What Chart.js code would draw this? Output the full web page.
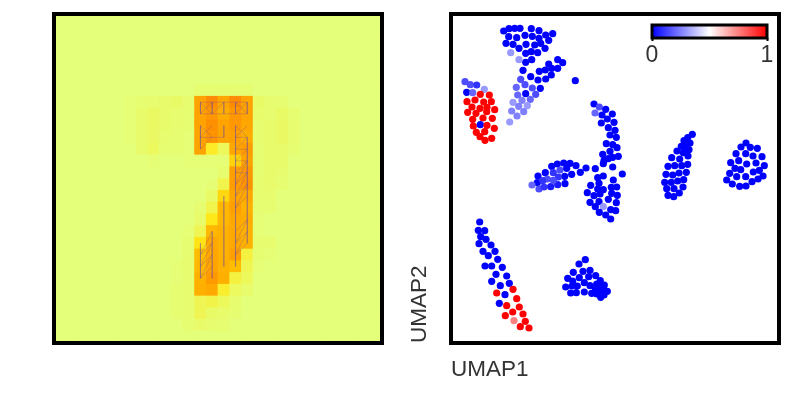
<!DOCTYPE html>
<html>
<head>
<meta charset="utf-8">
<style>
body { margin: 0; background: #fff; overflow: hidden; }
#wrap { position: relative; width: 793px; height: 397px; }
canvas { position: absolute; left: 0; top: 0; }
</style>
<script src="https://cdn.jsdelivr.net/npm/chart.js@4"></script>
</head>
<body>
<div id="wrap">
<canvas id="heat" width="793" height="397"></canvas>
<canvas id="umap" width="793" height="397"></canvas>
<canvas id="cbar" width="793" height="397"></canvas>
</div>
<script>
// relevance map, 28 x 28 cells, 0..1
const heatRows = [
[0,0,0,0,0,0,0,0,0,0,0,0,0,0,0,0,0,0,0,0,0,0,0,0,0,0,0,0],
[0,0,0,0,0,0,0,0,0,0,0,0,0,0,0,0,0,0,0,0,0,0,0,0,0,0,0,0],
[0,0,0,0,0,0,0,0,0,0,0,0,0,0,0,0,0,0,0,0,0,0,0,0,0,0,0,0],
[0,0,0,0,0,0,0,0,0,0,0,0,0,0,0,0,0,0,0,0,0,0,0,0,0,0,0,0],
[0,0,0,0,0,0,0,0,0,0,0,0,0,0,0,0,0,0,0,0,0,0,0,0,0,0,0,0],
[0,0,0,0,0,0,0,0,0,0,0,0,0,0,0,0,0,0,0,0,0,0,0,0,0,0,0,0],
[0,0,0,0,0,0,0,0,0,0,0,0,.02,.02,.02,.02,.02,0,0,0,0,0,0,0,0,0,0,0],
[0,0,0,0,0,0,.01,.02,.03,.04,.05,.03,.72,.9,.7,.9,.72,.05,.03,.02,0,0,0,0,0,0,0,0],
[0,0,0,0,0,0,.01,.04,.06,.04,.03,.02,.72,.82,.65,.82,.72,.04,.03,.05,.02,0,0,0,0,0,0,0],
[0,0,0,0,0,0,.01,.04,.06,.04,.03,.02,.72,.88,.72,.82,.7,.03,.04,.06,.03,0,0,0,0,0,0,0],
[0,0,0,0,0,0,.01,.04,.06,.03,.02,.01,.72,.85,.72,.75,.65,.03,.04,.06,.03,0,0,0,0,0,0,0],
[0,0,0,0,0,0,0,.04,.07,.02,.02,.01,.72,.22,.08,.7,.78,.02,.04,.04,.02,0,0,0,0,0,0,0],
[0,0,0,0,0,0,0,0,.01,0,0,.01,.01,.01,.01,.38,.72,.02,.04,.04,0,0,0,0,0,0,0,0],
[0,0,0,0,0,0,0,0,0,0,0,0,0,0,.03,.75,.82,.02,.04,.03,0,0,0,0,0,0,0,0],
[0,0,0,0,0,0,0,0,0,0,0,0,0,.01,.12,.78,.85,.03,.04,.02,0,0,0,0,0,0,0,0],
[0,0,0,0,0,0,0,0,0,0,0,0,0,.05,.35,.7,.68,.03,.03,0,0,0,0,0,0,0,0,0],
[0,0,0,0,0,0,0,0,0,0,0,0,.02,.12,.55,.75,.6,.02,.02,0,0,0,0,0,0,0,0,0],
[0,0,0,0,0,0,0,0,0,0,0,0,.04,.25,.55,.68,.65,.01,0,0,0,0,0,0,0,0,0,0],
[0,0,0,0,0,0,0,0,0,0,0,.01,.1,.55,.6,.68,.6,.01,0,0,0,0,0,0,0,0,0,0],
[0,0,0,0,0,0,0,0,0,0,0,.02,.28,.68,.6,.68,.6,.03,.03,0,0,0,0,0,0,0,0,0],
[0,0,0,0,0,0,0,0,0,0,0,.02,.5,.7,.6,.75,.15,.02,.01,0,0,0,0,0,0,0,0,0],
[0,0,0,0,0,0,0,0,0,0,.01,.03,.55,.72,.6,.5,.1,.01,0,0,0,0,0,0,0,0,0,0],
[0,0,0,0,0,0,0,0,0,0,.01,.03,.6,.8,.62,.15,.08,0,0,0,0,0,0,0,0,0,0,0],
[0,0,0,0,0,0,0,0,0,0,.02,.03,.62,.68,.2,.07,.04,0,0,0,0,0,0,0,0,0,0,0],
[0,0,0,0,0,0,0,0,0,0,.02,.03,.1,.13,.08,.03,0,0,0,0,0,0,0,0,0,0,0,0],
[0,0,0,0,0,0,0,0,0,0,.02,.03,.1,.05,.04,.02,0,0,0,0,0,0,0,0,0,0,0,0],
[0,0,0,0,0,0,0,0,0,0,0,.02,.04,.03,.02,0,0,0,0,0,0,0,0,0,0,0,0,0],
[0,0,0,0,0,0,0,0,0,0,0,0,0,0,0,0,0,0,0,0,0,0,0,0,0,0,0,0]
];
const wistia = [[228,255,122],[255,232,26],[255,189,0],[255,160,0],[252,127,0]];

// graph edges over the digit: col1,row1,col2,row2
const meshEdges = [
[12,7,16,7],[12,8,16,8],[12,7,12,8],[13,7,13,8],[14,7,14,8],[15,7,15,8],[16,7,16,8],
[12,8,13,7],[12,7,13,8],[13,8,14,7],[15,8,16,7],[15,7,16,8],
[12,9,12,11],[12,9,13,10],[13,9,12,10],[12,10,14,10],[14,9,14,10],[12,11,13,10],
[15,9,15,21],[15,9,16,10],[16,9,15,10],[15,10,16,10],[16,10,15,11],[15,11,16,11],[16,11,15,12],[15,12,16,12],
[16,10,16,19],[15,13,16,13],[15,13,16,12],[15,14,16,12],[15,14,16,13],[15,15,16,13],[15,15,16,14],[15,16,16,14],[15,16,16,15],
[15,18,16,17],[15,19,16,17],[15,19,16,18],[15,20,16,18],[15,20,16,19],
[14,15,14,21],
[12,19,12,22],[13,18,13,22],[12,20,13,18],[12,20,13,19],[12,21,13,19],[12,21,13,20],[12,22,13,20],[12,22,13,21]
];

// umap1, umap2, value
const clusterTop = [
[52.7,312,0],[58,314.3,0],[63.7,314.7,0],[69,314.7,0],[80.3,314.3,0],[88,312.3,0],[101.7,309.3,0],[94.7,308,0],
[57.7,306.3,0],[65.7,305.3,0],[74,307.7,0],[81.3,306.7,0],[88,304.7,0],[97.7,302.7,0],[55,299.7,0],[62,298.7,0],
[68,294.7,0],[75,298.7,0],[83.7,298,0],[89.7,299.7,0],[94,294.7,0],[74.7,289.7,0],[80.3,291.3,0],[86.7,290.3,0],
[74.7,280.7,0],[80.7,283.3,0],[59.7,290.3,.3],[68,283.3,.3],[72,272.7,0],[79.7,266.3,0],[88.3,271.7,0],[94.3,273,0],
[100.7,274.7,0],[106.7,283.3,0],[111.7,280.3,0],[106.7,274.7,0],[97.7,279,0],[100.3,268,0],[94.7,264,0],[87,263,0],
[89.3,254.7,0],[124.3,262.3,0],[69.7,263.7,.15],[65.3,255.7,.2],[74,258.3,.15],[81.3,255,.15],[66.7,248,.2],[74.7,249.3,0],
[84.7,248.7,.15],[79.3,243.7,.2],[71,242.7,.25],[62,240.7,.3],[76.3,237.3,.3],[67.7,236.7,.25],[60.7,232,.25],[72.7,231.3,.25],
[66,227,.25],[58.7,221,.3]
];
const clusterRed = [
[14,261.3,.15],[19.3,258.3,.15],[25.7,258,.1],[15.7,250.7,0],[21.7,250.3,.2],[33.3,253.7,.3],[29.3,248.7,1],[38.3,248,1],
[16,241.3,1],[24,243,1],[32.7,241,1],[40.3,241.3,1],[21,236,1],[29,234.7,1],[36,235.7,1],[16.7,230.7,1],[25,229.7,1],
[43.7,233.3,1],[35.7,231.3,1],[32,225,1],[41.3,224.7,1],[21.7,223.7,1],[22.3,217,1],[29.3,218.3,0],[36,217.7,1],
[43.3,214.7,1],[25.3,210.7,1],[33.7,211.3,1],[29,206.3,1],[34,202.7,1],[40.7,204.7,1]
];
const clusterCentre = [
[143,239,0],[148.3,236,.15],[154.7,233.7,0],[161.3,229,0],[144,230,.2],[151,228,0],[156.3,224,0],[163,220.7,0],
[150.3,220,0],[157.3,215.3,0],[164,212.7,0],[159,208,0],[165.3,205.7,0],[155.3,199.3,0],[161.7,198.3,0],[166,195.3,0],
[151.7,188.7,0],[159,191.7,0],[167.3,186.7,0],[157.3,184.3,0],[161.7,185.7,0],[153,182.3,0],[152.3,179.3,0],[161.7,176,0],
[171.3,169,0],[144.3,174.3,0],[135,175,0],[129.3,170.7,0],[152.3,167,0],[146.7,165.3,0],[162.3,163,0],[139.7,157.7,0],
[148,159.7,0],[146.7,154,0],[152.3,153.3,0],[160.3,155.7,0],[165.7,156,0],[136.3,150.3,0],[143,147.3,0],[149,149,0],
[160.7,149.7,0],[166.3,147.7,0],[157.3,143.7,0],[139,140.7,0],[148,141.3,0],[165.3,140.3,0],[144.3,136.3,0],[152.3,136.3,.3],
[159.7,133.3,0],[164.7,132.3,0],[148.3,130.7,0],[154.7,128,0],[159.7,124,0]
];
const clusterMid = [
[125,177.3,0],[119,179.7,0],[112.7,180,0],[106.3,179,0],[100.7,176.7,0],[94.3,170.3,0],[87,167,0],[86.3,160.3,0],
[81,158,.2],[88,154,.15],[93,156,.1],[99.7,156.3,.05],[106.7,158.3,.05],[114,159.3,0],[120.7,168.7,0],[113.7,166.7,0],
[109,173,.15],[115.7,174.7,0],[102.3,170.3,.1],[107.3,166,.1],[96.3,164,.15],[102.3,162.7,.15],[91.7,162.3,.1]
];
const clusterRight1 = [
[241.3,208.7,0],[236.7,205.3,0],[233,202.3,0],[239,200,0],[234.7,196.3,0],[230.3,196.7,0],[238,193.3,0],[226,192,0],
[232.3,190.3,0],[220.7,185.3,0],[228.7,184,0],[237,187,0],[217,176.7,0],[223.7,177.3,0],[230.7,177.3,0],[236.7,178.7,0],
[228,170,0],[235.3,170.7,0],[215,168.7,0],[221.7,168,0],[213.7,160.7,0],[220.3,160.7,0],[226.7,162,0],[232.7,163.3,0],
[215.7,154.3,0],[223,154.3,0],[232,156,0],[228.3,150,0],[217,147.7,0],[222.7,146.3,0]
];
const clusterRight2 = [
[295,200,0],[290,196,0],[299.3,195.7,0],[306.3,194.7,0],[285,189.3,0],[294.7,189.3,0],[302,187,0],[311,186.3,0],
[287.7,182.3,0],[279.7,180.3,0],[295.7,179,0],[305,180,0],[284,174.7,0],[289.7,173.3,0],[313.3,177.3,0],[308.3,172.7,0],
[302.3,171,0],[278.7,169.7,0],[285.7,166.3,0],[294.7,166.3,0],[312,167,0],[307,164,0],[275.7,163,0],[301,161.3,0],
[281.3,159,0],[288.7,156.7,0],[295,157,0]
];
const clusterDiagonal = [
[28.7,121,0],[27.3,112.7,0],[33.7,112.3,0],[29.7,106.3,0],[35,103.7,0],[28,99.3,0],[40,98,0],[32,91.7,0],[44,91.7,0],
[37.3,87.3,0],[46.7,83.7,0],[34,77,0],[40.7,77,0],[51.3,75.7,0],[45,68.7,0],[55.7,67,0],[40.7,61.7,0],[58.3,59.7,0],
[49.3,57.3,0],[54,48.3,0],[48.3,39.7,0],[62,53.7,1],[45.7,50,1],[65.7,44.3,1],[55.7,37.3,1],[68.3,36,1],[61.7,31,1],
[72,29,1],[54.3,27.3,1],[74.3,21.7,1],[63,22.3,.75],[69.3,16.3,1],[78,15,1]
];
const clusterBottom = [
[134.3,83.3,0],[128,79,0],[122.3,70.7,0],[132,71.7,0],[139,72.7,0],[128.3,65.3,0],[116.7,64.7,0],[144.7,67.3,0],
[137.7,66.3,0],[121.7,62,0],[133.3,60.3,0],[126.3,57,0],[121,57,0],[114.7,56,0],[139,57.3,0],[149.3,62.3,0],
[153.3,58,0],[145.7,59,0],[119.7,50,0],[125.3,50.3,0],[133.3,51,0],[140.7,49.7,0],[144.3,55,0],[149,53,0],
[156.3,51.7,0],[145.7,49,0],[150.7,51.3,0],[153,48,0],[149.7,45.7,0],[148,56.3,0],[151.7,55.7,0]
];
const cbarTicks = [0, 1];

const fontName = '"Liberation Sans", Arial, sans-serif';
const textColor = '#333333';

function wistiaColor(v) {
    const p = v * (wistia.length - 1);
    const i = Math.min(Math.floor(p), wistia.length - 2);
    const t = p - i;
    const c = wistia[i].map((a, k) => Math.round(a + (wistia[i + 1][k] - a) * t));
    return 'rgb(' + c.join(',') + ')';
}
function bwrColor(v) {
    if (v <= 0.5) {
        const g = Math.round(v * 2 * 255);
        return 'rgb(' + g + ',' + g + ',255)';
    }
    const g = Math.round((1 - v) * 2 * 255);
    return 'rgb(255,' + g + ',' + g + ')';
}

// black box round the plot area
const framePlugin = {
    id: 'frame',
    afterDraw(chart, args, opts) {
        const a = chart.chartArea;
        const ctx = chart.ctx;
        ctx.save();
        ctx.strokeStyle = '#000';
        ctx.lineWidth = opts.width;
        ctx.strokeRect(a.left, a.top, a.right - a.left, a.bottom - a.top);
        ctx.restore();
    }
};

const hiddenAxis = {
    ticks: { display: false },
    grid: { display: false },
    border: { display: false }
};

const heatPoints = [];
const heatColors = [];
heatRows.forEach((row, r) => row.forEach((v, c) => {
    heatPoints.push({ x: c, y: r });
    heatColors.push(wistiaColor(v));
}));

const meshSets = meshEdges.map(e => ({
    data: [{ x: e[0], y: e[1] }, { x: e[2], y: e[3] }],
    showLine: true,
    borderColor: 'rgba(70,50,210,0.22)',
    borderWidth: 1,
    pointRadius: 0,
    order: 0
}));

const graf_heat = new Chart(document.getElementById('heat').getContext('2d'), {
    type: 'scatter',
    data: {
        datasets: meshSets.concat([{
            data: heatPoints,
            pointStyle: 'rect',
            pointRadius: 8.8,
            pointBorderWidth: 0,
            pointBackgroundColor: heatColors,
            order: 1
        }])
    },
    options: {
        responsive: false,
        animation: false,
        events: [],
        layout: { autoPadding: false, padding: { left: 54, top: 14, right: 411, bottom: 54 } },
        plugins: { legend: { display: false }, tooltip: { enabled: false }, frame: { width: 4 } },
        scales: {
            x: { ...hiddenAxis, display: false, min: -0.5, max: 27.5 },
            y: { ...hiddenAxis, display: false, min: -0.5, max: 27.5, reverse: true }
        }
    },
    plugins: [framePlugin]
});

const umapPoints = [].concat(clusterTop, clusterRed, clusterCentre, clusterMid, clusterRight1, clusterRight2, clusterDiagonal, clusterBottom);

const graf_umap = new Chart(document.getElementById('umap').getContext('2d'), {
    type: 'scatter',
    data: {
        datasets: [{
            data: umapPoints.map(p => ({ x: p[0], y: p[1] })),
            pointRadius: 3.6,
            pointBorderWidth: 0,
            pointBackgroundColor: umapPoints.map(p => bwrColor(p[2]))
        }]
    },
    options: {
        responsive: false,
        animation: false,
        events: [],
        layout: { autoPadding: false, padding: { left: 406, top: 14, right: 14, bottom: 14 } },
        plugins: { legend: { display: false }, tooltip: { enabled: false }, frame: { width: 4 } },
        scales: {
            x: {
                ...hiddenAxis, min: 0, max: 328,
                afterFit: s => { s.height = 40; },
                title: { display: true, text: 'UMAP1', align: 'start', color: textColor, padding: 0, font: { family: fontName, size: 22.5 } }
            },
            y: {
                ...hiddenAxis, min: 0, max: 329,
                afterFit: s => { s.width = 45; },
                title: { display: true, text: 'UMAP2', align: 'start', color: textColor, padding: 0, font: { family: fontName, size: 22.5 } }
            }
        }
    },
    plugins: [framePlugin]
});

const graf_cbar = new Chart(document.getElementById('cbar').getContext('2d'), {
    type: 'bar',
    data: {
        labels: [''],
        datasets: [{
            data: [cbarTicks[1]],
            barPercentage: 1,
            categoryPercentage: 1,
            backgroundColor: c => {
                const a = c.chart.chartArea;
                if (!a) return 'blue';
                const g = c.chart.ctx.createLinearGradient(a.left, 0, a.right, 0);
                g.addColorStop(0, bwrColor(0));
                g.addColorStop(0.5, bwrColor(0.5));
                g.addColorStop(1, bwrColor(1));
                return g;
            }
        }]
    },
    options: {
        indexAxis: 'y',
        responsive: false,
        animation: false,
        events: [],
        layout: { padding: { left: 652, top: 25, right: 26, bottom: 333 } },
        plugins: { legend: { display: false }, tooltip: { enabled: false }, frame: { width: 3 } },
        scales: {
            x: {
                min: cbarTicks[0], max: cbarTicks[1],
                afterBuildTicks: s => { s.ticks = cbarTicks.map(v => ({ value: v })); },
                afterFit: s => { s.height = 26; },
                border: { display: false },
                grid: { drawOnChartArea: false, color: '#000', tickLength: 3, tickWidth: 2 },
                ticks: { color: textColor, padding: 1, maxRotation: 0, autoSkip: false, font: { family: fontName, size: 23 } }
            },
            y: { display: false }
        }
    },
    plugins: [framePlugin]
});
</script>
</body>
</html>
